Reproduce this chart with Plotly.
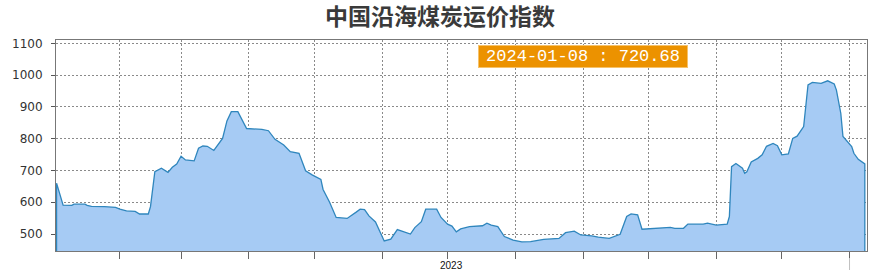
import plotly.graph_objects as go

# ---- data ----
dates = [
    "2023-01-03", "2023-01-06", "2023-01-10", "2023-01-11", "2023-01-16", "2023-01-17",
    "2023-01-19", "2023-01-25", "2023-01-30", "2023-02-01", "2023-02-04", "2023-02-08",
    "2023-02-10", "2023-02-14", "2023-02-15", "2023-02-17", "2023-02-20", "2023-02-23",
    "2023-02-25", "2023-02-27", "2023-03-01", "2023-03-03", "2023-03-07", "2023-03-09",
    "2023-03-11", "2023-03-13", "2023-03-16", "2023-03-20", "2023-03-22", "2023-03-24",
    "2023-03-27", "2023-03-31", "2023-04-07", "2023-04-10", "2023-04-13", "2023-04-17",
    "2023-04-20", "2023-04-24", "2023-04-27", "2023-04-30", "2023-05-04", "2023-05-05",
    "2023-05-08", "2023-05-11", "2023-05-16", "2023-05-20", "2023-05-22", "2023-05-24",
    "2023-05-26", "2023-05-29", "2023-06-02", "2023-06-05", "2023-06-08", "2023-06-14",
    "2023-06-16", "2023-06-19", "2023-06-21", "2023-06-26", "2023-06-28", "2023-07-01",
    "2023-07-03", "2023-07-05", "2023-07-07", "2023-07-11", "2023-07-17", "2023-07-19",
    "2023-07-21", "2023-07-24", "2023-07-27", "2023-07-31", "2023-08-04", "2023-08-08",
    "2023-08-14", "2023-08-21", "2023-08-24", "2023-08-28", "2023-08-31", "2023-09-05",
    "2023-09-08", "2023-09-13", "2023-09-18", "2023-09-21", "2023-09-23", "2023-09-26",
    "2023-09-28", "2023-10-11", "2023-10-13", "2023-10-17", "2023-10-19", "2023-10-26",
    "2023-10-28", "2023-11-01", "2023-11-06", "2023-11-07", "2023-11-08", "2023-11-10",
    "2023-11-13", "2023-11-14", "2023-11-15", "2023-11-17", "2023-11-20", "2023-11-22",
    "2023-11-24", "2023-11-27", "2023-11-29", "2023-12-01", "2023-12-04", "2023-12-06",
    "2023-12-08", "2023-12-11", "2023-12-12", "2023-12-13", "2023-12-15", "2023-12-19",
    "2023-12-22", "2023-12-25", "2023-12-26", "2023-12-28", "2023-12-29", "2023-12-31",
    "2024-01-02", "2024-01-03", "2024-01-05", "2024-01-08",
]
values = [
    660, 591, 590, 594, 594, 590,
    587, 586, 584, 578, 573, 571,
    563, 563, 586, 696, 707, 694,
    710, 720, 745, 733, 730, 770,
    777, 776, 763, 801, 856, 885,
    885, 832, 829, 825, 798, 780,
    759, 754, 699, 686, 672, 640,
    600, 552, 549, 568, 578, 577,
    557, 538, 478, 484, 514, 500,
    520, 539, 578, 578, 552, 531,
    525, 507, 516, 523, 526, 534,
    528, 523, 492, 481, 475, 476,
    483, 486, 504, 509, 497, 494,
    490, 486, 499, 555, 563, 560,
    515, 521, 518, 518, 531, 531,
    534, 528, 531, 555, 712, 722,
    707, 691, 696, 727, 738, 749,
    776, 785, 778, 749, 752, 801,
    808, 838, 911, 969, 977, 974,
    982, 972, 953, 880, 807, 790,
    775, 754, 735, 720.68,
]
month_ticks = ["2023-%02d-01" % m for m in range(2, 13)] + ["2024-01-01"]
year_label = "2023"
title_text = "中国沿海煤炭运价指数"
last_label = "%s : %.2f" % (dates[-1], values[-1])

y_min, y_max = 446.5, 1110.5
x_range = ["2023-01-02 18:00", "2024-01-09 00:00"]

fig = go.Figure()
# closed area so the stroke also runs down the left and right edges
fig.add_trace(go.Scatter(
    x=[dates[0]] + dates + [dates[-1]],
    y=[y_min] + values + [y_min],
    mode="lines",
    fill="toself",
    fillcolor="#a6cbf4",
    line=dict(color="#2f86bd", width=1.3),
    hoverinfo="skip",
    showlegend=False,
))

grid = dict(showgrid=True, gridcolor="#8a8a8a", gridwidth=1, griddash="2px,2px")

fig.update_layout(
    width=880, height=278,
    margin=dict(l=52, r=12, t=40, b=27),
    paper_bgcolor="white", plot_bgcolor="white",
    title=dict(text="<b>%s</b>" % title_text, x=0.5, xanchor="center",
               y=1 - 17 / 278, yanchor="middle",
               font=dict(family="Noto Sans CJK SC", size=23, color="#3a3a3a")),
    xaxis=dict(
        type="date", range=x_range,
        tickvals=month_ticks, ticktext=[""] * len(month_ticks),
        ticks="outside", ticklen=7, tickcolor="#666666", tickwidth=1,
        showline=True, linecolor="#777777", linewidth=1, mirror=True,
        zeroline=False, **grid,
    ),
    yaxis=dict(
        range=[y_min, y_max],
        tickvals=[500, 600, 700, 800, 900, 1000, 1100],
        ticks="outside", ticklen=4, tickcolor="#555555",
        ticklabelstandoff=6,
        tickfont=dict(family="DejaVu Sans", size=12, color="#333333"),
        showline=True, linecolor="#777777", linewidth=1, mirror=True,
        zeroline=False, **grid,
    ),
)

# year label under the 2023 span
fig.add_annotation(x="2023-07-03", xref="x", y=-14 / 211, yref="paper",
                   text=year_label, showarrow=False, yanchor="middle",
                   font=dict(family="Liberation Sans", size=10, color="#111111"))
# longer year-boundary marker
fig.add_shape(type="line", xref="x", yref="paper",
              x0=month_ticks[-1], x1=month_ticks[-1], y0=-7 / 211, y1=-19 / 211,
              line=dict(color="#c0c0c0", width=1))

# orange value box
fig.add_annotation(x=0.6495, y=0.9218, xref="paper", yref="paper",
                   text=last_label, showarrow=False,
                   xanchor="center", yanchor="middle",
                   width=208, height=21, borderpad=0,
                   bgcolor="#ec9200", bordercolor="#f6c26a", borderwidth=1,
                   font=dict(family="Liberation Mono", size=17, color="white"))

fig.write_html("out.html")
